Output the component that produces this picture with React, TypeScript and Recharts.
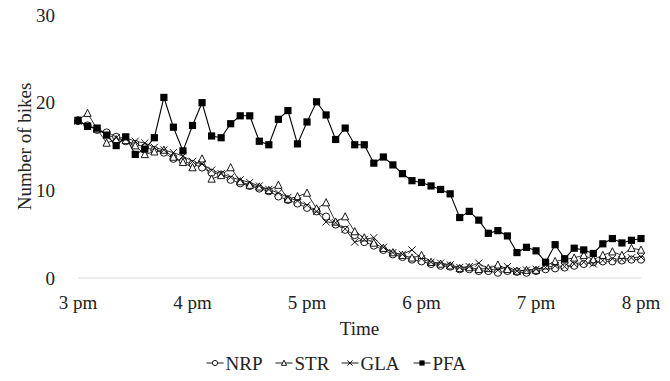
import React from "react";
import { LineChart, Line, XAxis, YAxis, Legend } from "recharts";

// minutes after 3 pm, one reading every 5 minutes
const minutes = [
  0, 5, 10, 15, 20, 25, 30, 35, 40, 45, 50, 55,
  60, 65, 70, 75, 80, 85, 90, 95, 100, 105, 110, 115,
  120, 125, 130, 135, 140, 145, 150, 155, 160, 165, 170, 175,
  180, 185, 190, 195, 200, 205, 210, 215, 220, 225, 230, 235,
  240, 245, 250, 255, 260, 265, 270, 275, 280, 285, 290, 295,
];

const nrp = [
  17.9, 17.4, 16.9, 16.6, 16.1, 15.6, 15.3, 14.9, 14.6, 14.3, 13.6, 13.3,
  13.0, 12.6, 12.0, 11.8, 11.2, 10.8, 10.5, 10.2, 9.9, 9.3, 8.9, 8.5,
  8.0, 7.6, 7.0, 6.1, 5.5, 4.9, 4.1, 3.7, 3.2, 2.7, 2.4, 2.1,
  1.9, 1.6, 1.4, 1.3, 1.0, 1.0, 0.8, 0.8, 0.6, 0.8, 0.7, 0.6,
  0.8, 1.0, 1.1, 1.2, 1.4, 1.6, 1.8, 1.9, 1.9, 2.0, 2.1, 2.1,
];

const str = [
  18.0, 18.8, 17.0, 15.4, 15.8, 15.7, 15.1, 14.1, 14.4, 14.6, 13.8, 13.2,
  12.6, 13.6, 11.3, 11.7, 12.6, 11.0, 10.6, 10.4, 10.0, 10.6, 9.0, 9.3,
  9.7, 7.9, 8.6, 6.4, 7.0, 5.3, 4.6, 4.0, 3.4, 2.9, 2.6, 2.3,
  2.6, 1.8, 1.6, 1.4, 1.1, 1.2, 1.0, 1.1, 1.5, 1.0, 0.8, 0.9,
  0.9, 1.4, 1.9, 2.1, 2.3, 2.6, 2.1, 2.6, 3.0, 2.6, 3.4, 3.2,
];

const gla = [
  17.9, 17.3, 17.0, 16.3, 16.0, 16.0, 15.6, 15.4, 14.9, 14.6, 14.3, 13.9,
  13.3, 13.0, 12.3, 11.9, 11.5, 11.2, 10.9, 10.5, 10.1, 9.7, 9.2, 8.8,
  8.3, 7.6, 6.4, 6.3, 5.6, 4.1, 4.4, 4.6, 3.5, 2.9, 2.7, 3.2,
  2.2, 1.8, 1.7, 1.5, 1.2, 1.3, 1.7, 1.0, 0.9, 1.3, 0.8, 0.9,
  1.0, 1.2, 1.4, 1.3, 1.6, 1.8, 1.6, 2.0, 2.2, 2.1, 2.3, 2.4,
];

const pfa = [
  18.0, 17.3, 17.1, 16.3, 15.1, 16.1, 14.1, 14.7, 16.0, 20.6, 17.2, 14.5,
  17.4, 20.0, 16.2, 16.0, 17.6, 18.5, 18.5, 15.6, 15.2, 18.1, 19.1, 15.3,
  17.8, 20.1, 18.6, 15.8, 17.1, 15.2, 15.2, 13.1, 13.8, 12.9, 11.9, 11.1,
  10.9, 10.5, 10.1, 9.6, 6.9, 7.6, 6.6, 5.1, 5.4, 4.8, 2.9, 3.5,
  3.1, 1.8, 3.8, 2.2, 3.4, 3.2, 2.8, 3.9, 4.5, 4.0, 4.3, 4.5,
];

const hourTicks = [0, 60, 120, 180, 240, 295];
const hourLabels = ["3 pm", "4 pm", "5 pm", "6 pm", "7 pm", "8 pm"];
const yTicks = [0, 10, 20, 30];

const data = minutes.map((t, i) => ({
  t,
  NRP: nrp[i],
  STR: str[i],
  GLA: gla[i],
  PFA: pfa[i],
}));

const font = "'Liberation Serif', 'Times New Roman', Times, serif";
const textColor = "#222";

const Marker = ({ kind, cx, cy, s = 3.6 }: { kind: string; cx: number; cy: number; s?: number }) => {
  if (kind === "NRP")
    return <circle cx={cx} cy={cy} r={s} fill="#fff" stroke="#000" strokeWidth={0.9} />;
  if (kind === "STR")
    return (
      <polygon
        points={`${cx},${cy - s * 1.1} ${cx - s},${cy + s * 0.9} ${cx + s},${cy + s * 0.9}`}
        fill="#fff"
        stroke="#000"
        strokeWidth={0.9}
      />
    );
  if (kind === "GLA")
    return (
      <g stroke="#000" strokeWidth={0.9}>
        <line x1={cx - s} y1={cy - s} x2={cx + s} y2={cy + s} />
        <line x1={cx - s} y1={cy + s} x2={cx + s} y2={cy - s} />
      </g>
    );
  return <rect x={cx - s} y={cy - s} width={s * 2} height={s * 2} fill="#000" />;
};

const dotFor = (kind: string) => (p: any) =>
  p.cx == null ? <g key={`${kind}${p.index}`} /> : <Marker key={`${kind}${p.index}`} kind={kind} cx={p.cx} cy={p.cy} />;

const series = ["NRP", "STR", "GLA", "PFA"];

// legend drawn as svg so the serif font is applied the same way as the axis text
const legendWidths = [55, 52, 58, 50];
const LegendBox = () => {
  const total = legendWidths.reduce((a, b) => a + b, 0) + 14 * 3;
  let x = (670 - total) / 2;
  return (
    <svg width={670} height={30} style={{ display: "block" }}>
      {series.map((k, i) => {
        const x0 = x;
        x += legendWidths[i] + 14;
        return (
          <g key={k}>
            <line x1={x0} y1={15} x2={x0 + 17} y2={15} stroke="#000" strokeWidth={0.9} />
            <Marker kind={k} cx={x0 + 8.5} cy={15} s={2.6} />
            <text x={x0 + 19} y={21.5} fontFamily={font} fontSize={19} fill={textColor}>
              {k}
            </text>
          </g>
        );
      })}
    </svg>
  );
};

const XTick = (p: any) => (
  <text x={p.x} y={p.y} dy={13.5} textAnchor="middle" fontFamily={font} fontSize={19} fill={textColor}>
    {hourLabels[p.index]}
  </text>
);

const YTick = (p: any) => (
  <text x={p.x} y={p.y} dy={6.5} textAnchor="end" fontFamily={font} fontSize={19} fill={textColor}>
    {p.payload.value}
  </text>
);

export default function App() {
  return (
    <div style={{ position: "absolute", left: 0, top: 0, background: "#fff" }}>
      <LineChart
        width={670}
        height={381}
        data={data}
        margin={{ top: 15, right: 29, left: 0, bottom: 13 }}
      >
        <XAxis
          dataKey="t"
          type="number"
          domain={[0, 295]}
          ticks={hourTicks}
          height={60}
          tickLine={false}
          tickSize={0}
          tickMargin={17}
          axisLine={{ stroke: "#d9d9d9" }}
          tick={<XTick />}
          label={{
            value: "Time",
            position: "insideBottom",
            offset: 3,
            fill: textColor,
            fontFamily: font,
            fontSize: 19,
          }}
        />
        <YAxis
          domain={[0, 30]}
          ticks={yTicks}
          width={78}
          axisLine={false}
          tickLine={false}
          tickSize={0}
          tickMargin={23}
          tick={<YTick />}
          label={{
            value: "Number of bikes",
            angle: -90,
            position: "insideLeft",
            offset: 24,
            fill: textColor,
            fontFamily: font,
            fontSize: 19,
            style: { textAnchor: "middle" },
          }}
        />
        <Legend
          verticalAlign="bottom"
          height={30}
          wrapperStyle={{ bottom: 3, left: 0 }}
          content={() => <LegendBox />}
        />
        {series.map((k) => (
          <Line
            key={k}
            dataKey={k}
            type="linear"
            stroke="#000"
            strokeWidth={k === "PFA" ? 1.1 : 0.8}
            dot={dotFor(k)}
            activeDot={false}
            isAnimationActive={false}
          />
        ))}
      </LineChart>
    </div>
  );
}
